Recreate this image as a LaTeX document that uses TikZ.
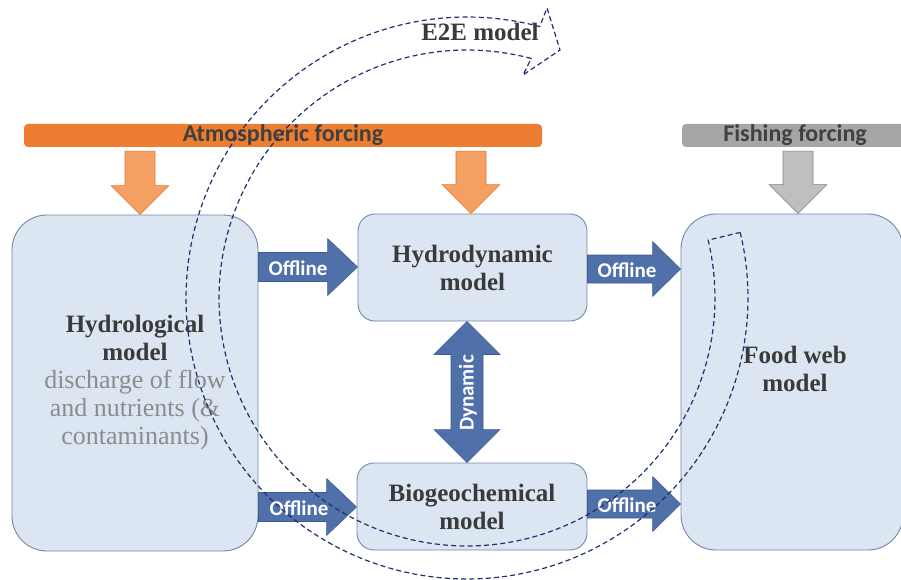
\documentclass[tikz,border=0pt]{standalone}
\usepackage{fontspec}
\setmainfont{Liberation Serif}
\newfontfamily\calibfont{Carlito}
\usetikzlibrary{calc}
\definecolor{boxfill}{RGB}{220,230,242}
\definecolor{boxline}{RGB}{112,136,168}
\definecolor{offfill}{RGB}{80,112,170}
\definecolor{offedge}{RGB}{62,92,146}
\definecolor{atmbar}{RGB}{237,125,49}
\definecolor{atmarrow}{RGB}{243,160,98}
\definecolor{atmedge}{RGB}{226,120,50}
\definecolor{fishbar}{RGB}{166,166,166}
\definecolor{fisharrow}{RGB}{191,191,191}
\definecolor{fishedge}{RGB}{130,130,130}
\definecolor{titletext}{RGB}{58,58,58}
\definecolor{subtext}{RGB}{140,140,140}
\definecolor{bartext}{RGB}{64,64,64}
\definecolor{e2eline}{RGB}{34,46,112}
\newcommand{\hydsubline}[1]{{\mdseries\color{subtext}\fontsize{26}{28.5}\selectfont#1}}
\newcommand{\hblockarrow}[6]{%
  \draw[#1] ($(#2)+(0,-#4)$) -- ($(#3)+(-#6,-#4)$) -- ($(#3)+(-#6,-#5)$) -- (#3)
    -- ($(#3)+(-#6,#5)$) -- ($(#3)+(-#6,#4)$) -- ($(#2)+(0,#4)$) -- cycle;}
\newcommand{\vblockarrow}[6]{%
  \draw[#1] ($(#2)+(-#4,0)$) -- ($(#2)+(#4,0)$) -- ($(#3)+(#4,-#6)$) -- ($(#3)+(#5,-#6)$)
    -- (#3) -- ($(#3)+(-#5,-#6)$) -- ($(#3)+(-#4,-#6)$) -- cycle;}
\begin{document}
\begin{tikzpicture}[x=1pt,y=-1pt,
  box/.style={draw=boxline, fill=boxfill, line width=0.9pt, inner sep=0pt,
    align=center, text=titletext, rounded corners=17pt,
    font=\bfseries\fontsize{25}{28}\selectfont},
  bigbox/.style={box, rounded corners=35pt, minimum height=336pt},
  offarrow/.style={fill=offfill, draw=offedge, line width=0.6pt},
  atmarr/.style={fill=atmarrow, draw=atmedge, line width=0.6pt},
  fisharr/.style={fill=fisharrow, draw=fishedge, line width=0.6pt},
  forcebar/.style={inner sep=0pt, rounded corners=4pt, minimum height=23pt,
    text=bartext, font=\calibfont\bfseries\fontsize{24}{26}\selectfont},
  arrowlabel/.style={text=white, inner sep=0pt, font=\calibfont\bfseries\fontsize{21}{23}\selectfont},
  e2e/.style={draw=e2eline, line width=1.2pt, dash pattern=on 5pt off 3.2pt}
]
\useasboundingbox (0,0) rectangle (901,580);

% forcing bars
\node[forcebar, fill=atmbar, minimum width=518pt] (atm) at (283,135.5) {Atmospheric forcing};
\node[forcebar, fill=fishbar, minimum width=232pt] (fish) at (798,135.5) {\hspace*{-6pt}Fishing forcing};

% boxes
\node[bigbox, minimum width=246pt] (hyd) at (135,383)
  {Hydrological\\model\\\hydsubline{discharge of flow}\\\hydsubline{and nutrients (\&}\\\hydsubline{contaminants)}};
\node[box, minimum width=229pt, minimum height=107pt] (hdyn) at (472.5,267.5) {Hydrodynamic\\model};
\node[box, minimum width=230pt, minimum height=87pt] (bgc) at (472,506.5) {Biogeochemical\\model};
\node[bigbox, minimum width=222pt] (food) at (792,382) {};
\node[text=titletext, font=\bfseries\fontsize{25}{28}\selectfont, align=center, inner sep=0pt] (foodt) at (795,369) {Food web\\model};

% forcing arrows
\coordinate (f1s) at ($(atm.south -| 140,0)+(0,4)$);
\coordinate (f1e) at (hyd.north -| 140,0);
\vblockarrow{atmarr}{f1s}{f1e}{15}{29}{29}
\coordinate (f2s) at ($(atm.south -| 471,0)+(0,4)$);
\coordinate (f2e) at (hdyn.north -| 471,0);
\vblockarrow{atmarr}{f2s}{f2e}{15}{29}{29}
\coordinate (f3s) at ($(fish.south -| 798,0)+(0,4)$);
\coordinate (f3e) at (food.north -| 798,0);
\vblockarrow{fisharr}{f3s}{f3e}{15}{29}{29}

% offline arrows
\coordinate (o1s) at (hyd.east |- 0,267);
\coordinate (o1e) at (hdyn.west |- 0,267);
\hblockarrow{offarrow}{o1s}{o1e}{14.5}{28.5}{30}
\coordinate (o2s) at (hyd.east |- 0,507);
\coordinate (o2e) at (bgc.west |- 0,507);
\hblockarrow{offarrow}{o2s}{o2e}{14.5}{28.5}{30}
\coordinate (o3s) at (hdyn.east |- 0,269);
\coordinate (o3e) at (food.west |- 0,269);
\hblockarrow{offarrow}{o3s}{o3e}{14}{27.5}{28}
\coordinate (o4s) at (bgc.east |- 0,504);
\coordinate (o4e) at (food.west |- 0,504);
\hblockarrow{offarrow}{o4s}{o4e}{14}{27.5}{28}
\node[arrowlabel] (off1) at (298,268) {Offline};
\node[arrowlabel] (off2) at (299,508) {Offline};
\node[arrowlabel] (off3) at (627,270) {Offline};
\node[arrowlabel] (off4) at (627,505) {Offline};

% dynamic double arrow
\coordinate (dt) at (hdyn.south -| 467,0);
\coordinate (db) at (bgc.north -| 467,0);
\draw[offarrow] (dt) -- ($(dt)+(33,33)$) -- ($(dt)+(16,33)$) -- ($(db)+(16,-33)$) -- ($(db)+(33,-33)$)
  -- (db) -- ($(db)+(-33,-33)$) -- ($(db)+(-16,-33)$) -- ($(dt)+(-16,33)$) -- ($(dt)+(-33,33)$) -- cycle;
\node[arrowlabel, rotate=90] (dynl) at (468,393) {Dynamic};

% E2E circular arrow
\draw[e2e] plot[domain=-13.5:285, samples=160] ({467+281*cos(\x)},{298+281*sin(\x)})
  -- (547,8) -- (560,50) -- (523,75)
  -- plot[domain=285:-13.5, samples=160] ({467+248*cos(\x)},{298+248*sin(\x)}) -- cycle;
\node[text=titletext, font=\bfseries\fontsize{25}{28}\selectfont, inner sep=0pt] (e2et) at (480,32) {E2E model};
\end{tikzpicture}
\end{document}
